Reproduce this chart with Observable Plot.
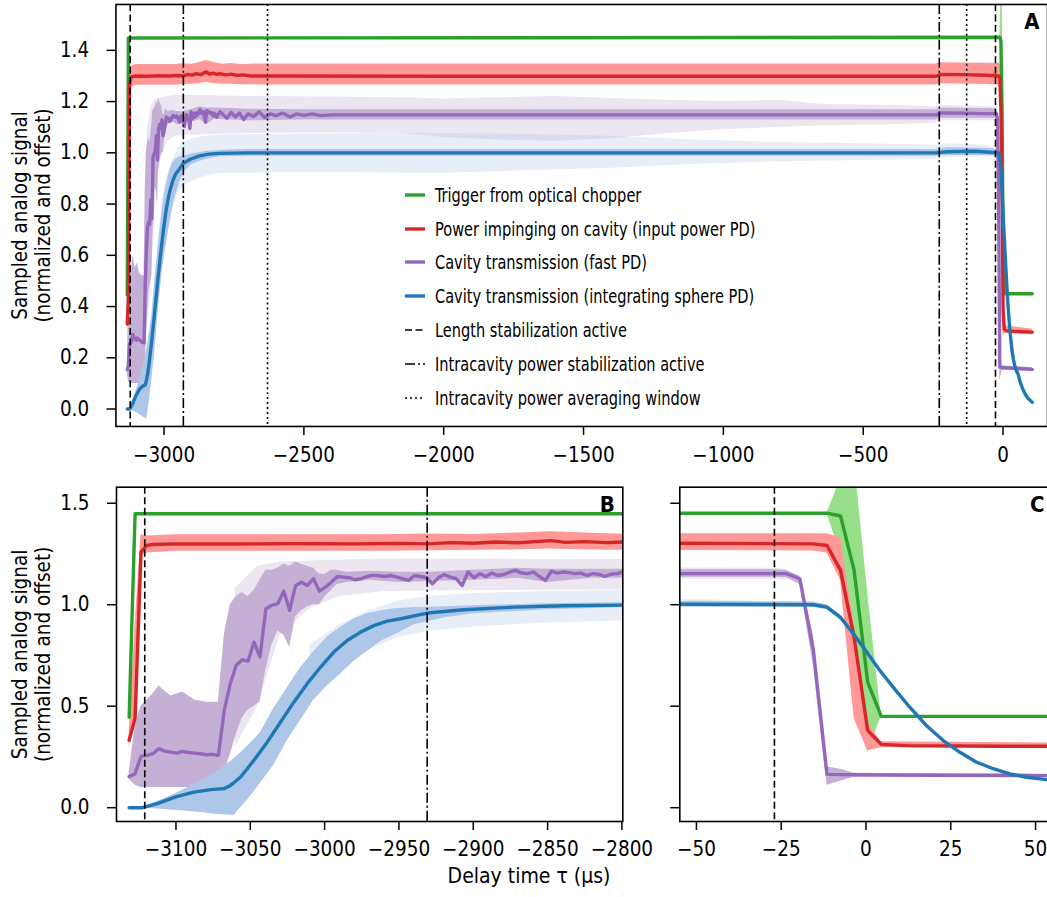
<!DOCTYPE html>
<html>
<head>
<meta charset="utf-8">
<script src="https://cdn.jsdelivr.net/npm/d3@7"></script>
<script src="https://cdn.jsdelivr.net/npm/@observablehq/plot@0.6"></script>
<style>
  html, body { margin: 0; padding: 0; background: #fff; overflow: hidden; }
  #fig { position: relative; width: 1047px; height: 897px; overflow: hidden;
         font-family: "DejaVu Sans Condensed", "DejaVu Sans", sans-serif; color: #000; }
  #fig > svg { position: absolute; }
  #legend { position: absolute; left: 405px; top: 178px; font-size: 20px; }
  #legend .row { display: flex; align-items: center; height: 33.8px; white-space: nowrap; }
  #legend svg { width: 20px; height: 12px; margin-right: 10px; flex: none; }
  #legend span { display: inline-block; transform: scaleX(0.81); transform-origin: 0 50%; }
  #xlabel { position: absolute; top: 866px; left: 0; width: 1058px; text-align: center; font-size: 21px; line-height: 1; }
</style>
</head>
<body>
<div id="fig"></div>
<script>
// ---------------- data ----------------
// Trigger from optical chopper
const triggerTime   = [-3131.5, -3127.5, -11.5, -7.5, -3.5, 0.5, 4.5, 104.5];
const triggerSignal = [0.446, 1.448, 1.451, 1.437, 1.169, 0.619, 0.450, 0.450];
const triggerBandTime = [-11.5, -7.5, -3.5, 0.5, 4.5];
const triggerBandLow  = [1.45, 1.25, 0.70, 0.27, 0.45];
const triggerBandHigh = [1.45, 1.62, 1.72, 1.06, 0.45];

// Power impinging on cavity (input power PD)
const inputTime = [-3131.5, -3127.5, -3123.5, -3119.5, -3115.5, -3100, -3060, -3020, -2980, -2950, -2930, -2915, -2900, -2885, -2870, -2858, -2848, -2838, -2825, -2810, -2800, -2780, -2760, -2740, -2720, -2690, -2600, -2000, -1000, -240, -222, -150, -60, -15.5, -11.5, -7.5, -3.5, 0.5, 4.5, 12, 40, 104.5];
const inputSignal = [0.332, 0.44, 1.26, 1.292, 1.297, 1.300, 1.299, 1.301, 1.300, 1.302, 1.300, 1.306, 1.303, 1.309, 1.305, 1.311, 1.316, 1.307, 1.311, 1.306, 1.309, 1.304, 1.307, 1.302, 1.304, 1.300, 1.300, 1.299, 1.299, 1.299, 1.306, 1.305, 1.303, 1.300, 1.292, 1.169, 0.84, 0.381, 0.312, 0.306, 0.303, 0.300];
const inputBandTime = [-3131.5, -3127.5, -3123.5, -3119.5, -3100, -2960, -2930, -2900, -2875, -2848, -2820, -2790, -2760, -2720, -2650, -240, -225, -60, -15.5, -11.5, -7.5, -3.5, 0.5, 4.5, 104.5];
const inputBandLow  = [0.30, 0.42, 1.24, 1.255, 1.264, 1.264, 1.266, 1.268, 1.27, 1.275, 1.27, 1.268, 1.268, 1.266, 1.265, 1.265, 1.27, 1.267, 1.265, 1.255, 1.12, 0.44, 0.28, 0.295, 0.290];
const inputBandHigh = [0.36, 0.90, 1.345, 1.338, 1.345, 1.345, 1.348, 1.346, 1.352, 1.36, 1.352, 1.346, 1.349, 1.345, 1.347, 1.347, 1.352, 1.35, 1.35, 1.35, 1.33, 0.90, 0.42, 0.325, 0.312];

// Cavity transmission (fast PD)
const fastTime = [-3131.5, -3127.5, -3123.5, -3119.5, -3115.5, -3111.5, -3107.5, -3103.5, -3099.5, -3095.5,
  -3091.5, -3087.5, -3083.5, -3079.5, -3075.5, -3071.5, -3067.5, -3063.5, -3059.5, -3055.5,
  -3051.5, -3047.5, -3043.5, -3039.5, -3035.5, -3031.5, -3027.5, -3023.5, -3019.5, -3015.5,
  -3011.5, -3007.5, -3003.5, -2999.5, -2995.5, -2991.5, -2987.5, -2983.5, -2979.5, -2975.5,
  -2971.5, -2967.5, -2963.5, -2959.5, -2955.5, -2951.5, -2947.5, -2943.5, -2939.5, -2935.5,
  -2931.5, -2927.5, -2923.5, -2919.5, -2915.5, -2911.5, -2907.5, -2903.5, -2899.5, -2895.5,
  -2891.5, -2887.5, -2883.5, -2879.5, -2875.5, -2871.5, -2867.5, -2863.5, -2859.5, -2855.5,
  -2851.5, -2847.5, -2843.5, -2839.5, -2835.5, -2831.5, -2827.5, -2823.5, -2819.5, -2815.5,
  -2811.5, -2807.5, -2803.5, -2799.5,
  -2790, -2775, -2760, -2745, -2730, -2715, -2700, -2680, -2660, -2640, -2620, -2600, -2575, -2550, -2525, -2500, -2470, -2440, -2400, -2300, -2000, -1500, -1000, -500, -240, -222, -150, -60, -27.5, -23.5, -19.5, -15.5, -11.5, -7.5, -3.5, 4.5, 20, 50, 104.5];
const fastSignal = [0.154, 0.167, 0.253, 0.258, 0.266, 0.291, 0.279, 0.274, 0.269, 0.277,
  0.272, 0.269, 0.266, 0.261, 0.263, 0.258, 0.479, 0.611, 0.701, 0.729,
  0.722, 0.816, 0.742, 0.980, 0.997, 1.005, 1.067, 0.972, 1.095, 1.111,
  1.095, 1.128, 1.067, 1.087, 1.111, 1.139, 1.136, 1.133, 1.123, 1.128,
  1.139, 1.146, 1.143, 1.139, 1.144, 1.136, 1.128, 1.120, 1.144, 1.139,
  1.133, 1.103, 1.133, 1.149, 1.136, 1.128, 1.095, 1.161, 1.133, 1.153,
  1.139, 1.156, 1.144, 1.149, 1.160, 1.169, 1.156, 1.153, 1.161, 1.139,
  1.120, 1.165, 1.156, 1.161, 1.158, 1.153, 1.156, 1.144, 1.153, 1.149,
  1.139, 1.150, 1.153, 1.161,
  1.150, 1.135, 1.158, 1.140, 1.155, 1.130, 1.152, 1.142, 1.160, 1.138, 1.152, 1.145, 1.155, 1.140, 1.152, 1.146, 1.152, 1.145, 1.148, 1.148, 1.148, 1.148, 1.148, 1.148, 1.148, 1.156, 1.155, 1.153, 1.153, 1.153, 1.128, 0.775, 0.164, 0.163, 0.162, 0.161, 0.160, 0.158, 0.155];
const fastInnerTime = [-3131.5, -3127.5, -3123.5, -3115.5, -3111.5, -3103.5, -3095.5, -3087.5, -3079.5, -3071.5, -3067.5, -3063.5, -3059.5, -3055.5, -3051.5, -3047.5, -3043.5, -3039.5, -3035.5, -3031.5, -3027.5, -3023.5, -3019.5, -3015.5, -3011.5, -3007.5, -3003.5, -2999.5, -2995.5, -2991.5, -2985, -2970, -2950, -2930, -2900, -2870, -2850, -2820, -2800, -2700, -2500, -240, -222, -27.5, -23.5, -19.5, -15.5, -11.5, -7.5, -3.5, 4.5, 104.5];
const fastInnerLow  = [0.14, 0.11, 0.10, 0.10, 0.10, 0.10, 0.10, 0.10, 0.10, 0.11, 0.18, 0.26, 0.36, 0.44, 0.48, 0.50, 0.52, 0.68, 0.80, 0.87, 0.85, 0.79, 0.94, 0.97, 0.99, 1.00, 1.00, 1.04, 1.07, 1.10, 1.11, 1.12, 1.11, 1.115, 1.12, 1.13, 1.11, 1.13, 1.13, 1.125, 1.128, 1.128, 1.135, 1.135, 1.133, 1.10, 0.70, 0.11, 0.13, 0.15, 0.152, 0.148];
const fastInnerHigh = [0.17, 0.40, 0.50, 0.56, 0.60, 0.55, 0.57, 0.53, 0.52, 0.52, 0.85, 1.00, 1.04, 1.06, 1.04, 1.07, 1.12, 1.17, 1.17, 1.18, 1.20, 1.19, 1.21, 1.20, 1.19, 1.18, 1.15, 1.15, 1.17, 1.17, 1.16, 1.165, 1.16, 1.16, 1.17, 1.18, 1.175, 1.175, 1.175, 1.17, 1.168, 1.168, 1.175, 1.172, 1.17, 1.14, 0.85, 0.20, 0.19, 0.17, 0.168, 0.162];
const fastOuterTime = [-3060, -3045, -3030, -3010, -2990, -2960, -2900, -2700, -2400, -2150, -2000, -1800, -1600, -1400, -1200, -1000, -800, -650, -400, -240, -222, -27.5, -23.5];
const fastOuterLow  = [0.30, 0.50, 0.85, 0.98, 1.04, 1.065, 1.07, 1.075, 1.078, 1.075, 1.06, 1.05, 1.045, 1.055, 1.075, 1.09, 1.10, 1.105, 1.11, 1.115, 1.125, 1.125, 1.12];
const fastOuterHigh = [1.08, 1.19, 1.21, 1.215, 1.22, 1.225, 1.225, 1.22, 1.218, 1.215, 1.21, 1.215, 1.22, 1.212, 1.205, 1.20, 1.205, 1.19, 1.185, 1.18, 1.185, 1.18, 1.175];

// Cavity transmission (integrating sphere PD)
const sphereTime = [-3131.5, -3122.6, -3112.6, -3100.2, -3087.9, -3076.7, -3067.7, -3063.2, -3056.5, -3047.6, -3038.6, -3029.6, -3020.7, -3011.7, -3002.7, -2993.8, -2984.8, -2975.8, -2966.9, -2957.9, -2948.9, -2930.9, -2906.3, -2872.7, -2839.1, -2799.4, -2700, -2400, -2000, -1500, -1000, -500, -240, -200, -100, -60, -15.5, -11.5, -7.6, -3.7, 0.2, 4.1, 8.0, 12.9, 17.8, 22.7, 27.6, 32.5, 37.5, 42.4, 47.3, 53.3, 60, 70, 80, 90, 104.5];
const sphereSignal = [0.0, 0.0, 0.02, 0.053, 0.077, 0.089, 0.094, 0.11, 0.151, 0.233, 0.323, 0.422, 0.520, 0.611, 0.693, 0.767, 0.824, 0.865, 0.897, 0.919, 0.931, 0.959, 0.975, 0.988, 0.995, 0.998, 1.0, 1.0, 1.0, 1.0, 1.0, 1.0, 1.0, 1.004, 1.006, 1.003, 1.0, 0.988, 0.939, 0.857, 0.767, 0.676, 0.594, 0.495, 0.405, 0.332, 0.274, 0.225, 0.192, 0.167, 0.150, 0.138, 0.110, 0.079, 0.057, 0.041, 0.026];
const sphereInnerTime = [-3131.5, -3121.5, -3105.8, -3094.6, -3083.4, -3072.2, -3061, -3052.1, -3043.1, -3034.1, -3025.2, -3016.2, -3007.2, -2998.3, -2989, -2980.3, -2971.4, -2962, -2953.4, -2940, -2920, -2900, -2850, -2800, -2700, -240, -200, -60, -15.5, -11.5, -7.6];
const sphereInnerLow  = [0, -0.002, -0.010, -0.016, -0.024, -0.033, -0.038, 0.036, 0.12, 0.21, 0.33, 0.43, 0.53, 0.60, 0.66, 0.72, 0.77, 0.82, 0.85, 0.90, 0.935, 0.955, 0.975, 0.985, 0.987, 0.987, 0.99, 0.99, 0.987, 0.975, 0.925];
const sphereInnerHigh = [0, 0.005, 0.05, 0.09, 0.13, 0.18, 0.24, 0.30, 0.37, 0.49, 0.59, 0.69, 0.77, 0.84, 0.89, 0.93, 0.955, 0.97, 0.98, 0.985, 0.99, 0.995, 1.005, 1.01, 1.013, 1.013, 1.02, 1.018, 1.013, 1.0, 0.952];
const sphereOuterTime = [-3010, -2990, -2970, -2950, -2930, -2900, -2850, -2800, -2600, -2300, -2000, -1700, -1400, -1100, -800, -500, -240, -200, -60, -15.5];
const sphereOuterLow  = [0.58, 0.70, 0.78, 0.84, 0.87, 0.89, 0.91, 0.92, 0.922, 0.922, 0.92, 0.93, 0.94, 0.955, 0.965, 0.97, 0.975, 0.982, 0.985, 0.99];
const sphereOuterHigh = [0.80, 0.90, 0.97, 1.02, 1.04, 1.055, 1.065, 1.07, 1.072, 1.075, 1.075, 1.072, 1.065, 1.05, 1.04, 1.035, 1.03, 1.035, 1.03, 1.01];

// Event markers (µs)
const lengthStabilization = [-3121, -27];
const powerStabilization  = [-2931, -228];
const averagingWindow     = [-2630, -130];

// Ticks
const ticksA_x = [-3000, -2500, -2000, -1500, -1000, -500, 0];
const ticksA_y = [0, 0.2, 0.4, 0.6, 0.8, 1.0, 1.2, 1.4];
const ticksB_x = [-3100, -3050, -3000, -2950, -2900, -2850, -2800];
const ticksC_x = [-50, -25, 0, 25, 50];
const ticksBC_y = [0, 0.5, 1.0, 1.5];

const legendLabels = [
  "Trigger from optical chopper",
  "Power impinging on cavity (input power PD)",
  "Cavity transmission (fast PD)",
  "Cavity transmission (integrating sphere PD)",
  "Length stabilization active",
  "Intracavity power stabilization active",
  "Intracavity power averaging window"
];

// ---------------- styles ----------------
const C = {
  green: "#2ca02c", greenL: "#98df8a",
  red: "#d62728", redL: "#ff9896",
  purple: "#9467bd", purpleL: "#c5b0d5",
  blue: "#1f77b4", blueL: "#aec7e8"
};
const DASH = "7,3.5", DASHDOT = "10,3,2,3", DOT = "2,3";
const FONT = '"DejaVu Sans Condensed", "DejaVu Sans", sans-serif';
const yDomain = [-0.068, 1.579];
const LW = 3.4;

const fmtX = d => (d < 0 ? "\u2212" : "") + Math.abs(d);
const fmtY = d => d.toFixed(1);

function band(t, lo, hi, fill, op) {
  return Plot.areaY(t, {x: t, y1: lo, y2: hi, fill, fillOpacity: op, clip: true});
}
function line(t, v, stroke) {
  return Plot.line(t, {x: t, y: v, stroke, strokeWidth: LW, clip: true, strokeLinejoin: "round"});
}
function dataMarks() {
  return [
    band(fastOuterTime, fastOuterLow, fastOuterHigh, C.purpleL, 0.32),
    band(sphereOuterTime, sphereOuterLow, sphereOuterHigh, C.blueL, 0.3),
    band(triggerBandTime, triggerBandLow, triggerBandHigh, C.greenL, 1),
    band(inputBandTime, inputBandLow, inputBandHigh, C.redL, 1),
    band(fastInnerTime, fastInnerLow, fastInnerHigh, C.purpleL, 1),
    band(sphereInnerTime, sphereInnerLow, sphereInnerHigh, C.blueL, 1),
    line(triggerTime, triggerSignal, C.green),
    line(inputTime, inputSignal, C.red),
    line(fastTime, fastSignal, C.purple),
    line(sphereTime, sphereSignal, C.blue),
    Plot.ruleX(lengthStabilization, {stroke: "black", strokeWidth: 1.6, strokeDasharray: DASH, clip: true}),
    Plot.ruleX(powerStabilization, {stroke: "black", strokeWidth: 1.6, strokeDasharray: DASHDOT, clip: true}),
    Plot.ruleX(averagingWindow, {stroke: "black", strokeWidth: 1.6, strokeDasharray: DOT, clip: true})
  ];
}
function letter(s) {
  return Plot.text([s], {text: d => d, frameAnchor: "top-right", dx: -8, dy: 9, textAnchor: "end",
    lineAnchor: "top", fontWeight: "bold", fontSize: 22});
}
function ylabel() {
  return Plot.text(["Sampled analog signal\n(normalized and offset)"], {text: d => d, frameAnchor: "left",
    dx: -85.5, rotate: -90, fontSize: 20.5, lineHeight: 1.12, textAnchor: "middle", lineAnchor: "middle"});
}
const style = {fontFamily: FONT, fontSize: "20.5px", color: "black", background: "transparent", overflow: "visible"};

const fig = document.getElementById("fig");

// Panel A
const A = Plot.plot({
  width: 1052, height: 470, marginLeft: 116, marginRight: 0, marginTop: 4, marginBottom: 42,
  x: {domain: [-3172, 159]}, y: {domain: yDomain}, style,
  marks: [
    ...dataMarks(),
    Plot.axisX({ticks: ticksA_x, tickFormat: fmtX, tickSize: 9, tickPadding: 12, strokeWidth: 1.5, label: null}),
    Plot.axisY({ticks: ticksA_y, tickFormat: fmtY, tickSize: 9, tickPadding: 18, strokeWidth: 1.5, label: null}),
    ylabel(), letter("A"),
    Plot.frame({stroke: "black", strokeWidth: 1.6})
  ]
});
A.style.left = "0px"; A.style.top = "0px";
fig.appendChild(A);

// Panel B
const B = Plot.plot({
  width: 640, height: 427, marginLeft: 116, marginRight: 17.7, marginTop: 16.7, marginBottom: 76,
  x: {domain: [-3140, -2799.4]}, y: {domain: yDomain}, style,
  marks: [
    ...dataMarks(),
    Plot.axisX({ticks: ticksB_x, tickFormat: fmtX, tickSize: 9, tickPadding: 11, strokeWidth: 1.5, label: null}),
    Plot.axisY({ticks: ticksBC_y, tickFormat: fmtY, tickSize: 9, tickPadding: 18, strokeWidth: 1.5, label: null}),
    ylabel(), letter("B"),
    Plot.frame({stroke: "black", strokeWidth: 1.6})
  ]
});
B.style.left = "0px"; B.style.top = "470px";
fig.appendChild(B);

// Panel C
const Cp = Plot.plot({
  width: 412, height: 427, marginLeft: 39.3, marginRight: 0, marginTop: 16.7, marginBottom: 76,
  x: {domain: [-54.9, 55.0]}, y: {domain: yDomain}, style,
  marks: [
    ...dataMarks(),
    Plot.axisX({ticks: ticksC_x, tickFormat: fmtX, tickSize: 9, tickPadding: 11, strokeWidth: 1.5, label: null}),
    Plot.axisY({ticks: ticksBC_y, tickFormat: () => "", tickSize: 9, strokeWidth: 1.5, label: null}),
    letter("C"),
    Plot.frame({stroke: "black", strokeWidth: 1.6})
  ]
});
Cp.style.left = "640px"; Cp.style.top = "470px";
fig.appendChild(Cp);

// Legend (HTML)
const swatches = [
  {stroke: C.green, w: 3.4, dash: null},
  {stroke: C.red, w: 3.4, dash: null},
  {stroke: C.purple, w: 3.4, dash: null},
  {stroke: C.blue, w: 3.4, dash: null},
  {stroke: "black", w: 1.6, dash: DASH},
  {stroke: "black", w: 1.6, dash: DASHDOT},
  {stroke: "black", w: 1.6, dash: DOT}
];
const legend = document.createElement("div");
legend.id = "legend";
legendLabels.forEach((lab, i) => {
  const s = swatches[i];
  const row = document.createElement("div");
  row.className = "row";
  row.innerHTML = `<svg viewBox="0 0 20 12"><line x1="0" x2="20" y1="6" y2="6" stroke="${s.stroke}" stroke-width="${s.w}"${s.dash ? ` stroke-dasharray="${s.dash}"` : ""}/></svg><span></span>`;
  row.querySelector("span").textContent = lab;
  legend.appendChild(row);
});
fig.appendChild(legend);

const xl = document.createElement("div");
xl.id = "xlabel";
xl.textContent = "Delay time \u03c4 (\u00b5s)";
fig.appendChild(xl);
</script>
</body>
</html>
